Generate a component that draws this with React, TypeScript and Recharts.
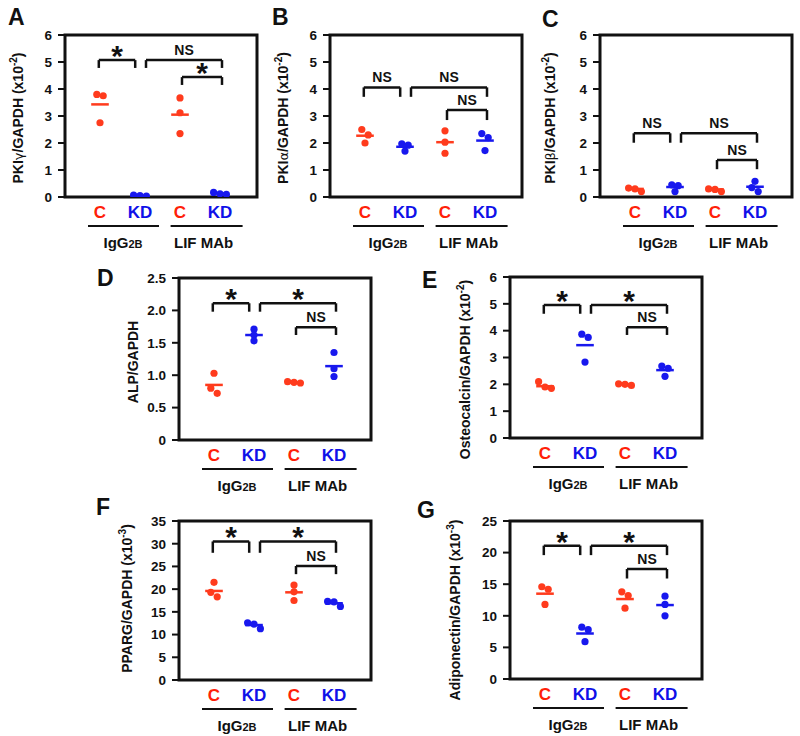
import React from "react";
import { ComposedChart, Scatter, XAxis, YAxis, ReferenceLine, ReferenceArea } from "recharts";

const FONT = "'Liberation Sans', Arial, Helvetica, sans-serif";
const INK = "#111111";
const RED = "#ff3b1d";
const RED_TEXT = "#ff2008";
const BLUE = "#1818ee";
const BLUE_TEXT = "#1010e8";

// shared layout of every panel
const categories = ["C", "KD", "C", "KD"];
const categoryTicks = [1, 2, 3, 4];
const groupNames = ["IgG", "LIF MAb"];
const groupSubs = ["2B", ""];
const groupCenters = [1.575, 3.59];
const X_DOMAIN: [number, number] = [0.125, 4.925];
const bracketFrom = [0.97, 2.15, 3.05];
const bracketTo = [1.88, 4.05, 4.05];

// A: PKIγ
const aVals = [[3.8, 3.75, 2.75], [0.07, 0.05, 0.03], [3.67, 3.12, 2.35], [0.17, 0.12, 0.1]];
const aMeans = [3.43, 0.05, 3.05, 0.13];
const aTop = [5.07, 5.07, 4.44];
const aLeg = [4.78, 4.78, 4.15];
const aSig = ["*", "NS", "*"];

// B: PKIα
const bVals = [[2.5, 2.3, 2.0], [1.97, 1.92, 1.7], [2.45, 2.03, 1.62], [2.35, 2.2, 1.72]];
const bMeans = [2.27, 1.86, 2.03, 2.09];
const bTop = [4.06, 4.06, 3.22];
const bLeg = [3.71, 3.71, 2.85];
const bSig = ["NS", "NS", "NS"];

// C: PKIβ
const cVals = [[0.33, 0.3, 0.2], [0.45, 0.42, 0.2], [0.3, 0.28, 0.2], [0.58, 0.35, 0.2]];
const cMeans = [0.3, 0.37, 0.28, 0.38];
const cTop = [2.36, 2.36, 1.37];
const cLeg = [2.01, 2.01, 1.03];
const cSig = ["NS", "NS", "NS"];

// D: ALP
const dVals = [[1.03, 0.8, 0.72], [1.71, 1.62, 1.53], [0.9, 0.89, 0.88], [1.35, 1.1, 0.98]];
const dMeans = [0.85, 1.62, 0.89, 1.14];
const dTop = [2.11, 2.11, 1.74];
const dLeg = [1.98, 1.98, 1.62];
const dSig = ["*", "*", "NS"];

// E: Osteocalcin
const eVals = [[2.1, 1.9, 1.85], [3.87, 3.75, 2.83], [2.02, 2.0, 1.96], [2.68, 2.6, 2.3]];
const eMeans = [1.93, 3.46, 2.0, 2.53];
const eTop = [4.96, 4.96, 4.13];
const eLeg = [4.63, 4.63, 3.84];
const eSig = ["*", "*", "NS"];

// F: PPARG
const fVals = [[21.5, 19.3, 18.3], [12.6, 12.3, 11.3], [20.9, 19.4, 17.5], [17.3, 17.2, 16.2]];
const fMeans = [19.6, 12.1, 19.3, 16.9];
const fTop = [30.5, 30.5, 25.1];
const fLeg = [28.0, 28.0, 23.3];
const fSig = ["*", "*", "NS"];

// G: Adiponectin
const gVals = [[14.6, 14.2, 11.8], [8.2, 7.8, 5.9], [13.8, 13.2, 11.2], [13.1, 11.8, 10.0]];
const gMeans = [13.5, 7.2, 12.65, 11.7];
const gTop = [21.1, 21.1, 17.4];
const gLeg = [19.6, 19.6, 15.9];
const gSig = ["*", "*", "NS"];

const ticks0to6 = [0, 1, 2, 3, 4, 5, 6];
const ticksD = [0, 0.5, 1, 1.5, 2, 2.5];
const ticksDLabels = ["0", "0.5", "1.0", "1.5", "2.0", "2.5"];
const ticksF = [0, 5, 10, 15, 20, 25, 30, 35];
const ticksG = [0, 5, 10, 15, 20, 25];

type Panel = {
  letter: string;
  letterX: number;
  letterY: number;
  boxLeft: number;
  boxTop: number;
  plotH: number;
  yMax: number;
  yTicks: number[];
  yTickLabels: string[];
  vals: number[][];
  means: number[];
  top: number[];
  leg: number[];
  sig: string[];
  label: [string, string, string, string];
  labelDx: number;
  labelDy: number;
};

const panels: Panel[] = [
  { letter: "A", letterX: 8, letterY: 25, boxLeft: 65, boxTop: 35, plotH: 162, yMax: 6, yTicks: ticks0to6, yTickLabels: ticks0to6.map(String), vals: aVals, means: aMeans, top: aTop, leg: aLeg, sig: aSig, label: ["PKI", "γ", "/GAPDH (x10", "-2"], labelDx: -47, labelDy: 2 },
  { letter: "B", letterX: 272, letterY: 25, boxLeft: 330, boxTop: 35, plotH: 162, yMax: 6, yTicks: ticks0to6, yTickLabels: ticks0to6.map(String), vals: bVals, means: bMeans, top: bTop, leg: bLeg, sig: bSig, label: ["PKI", "α", "/GAPDH (x10", "-2"], labelDx: -47, labelDy: 2 },
  { letter: "C", letterX: 542, letterY: 27, boxLeft: 600, boxTop: 35, plotH: 162, yMax: 6, yTicks: ticks0to6, yTickLabels: ticks0to6.map(String), vals: cVals, means: cMeans, top: cTop, leg: cLeg, sig: cSig, label: ["PKI", "β", "/GAPDH (x10", "-2"], labelDx: -50, labelDy: 2 },
  { letter: "D", letterX: 97, letterY: 286, boxLeft: 179, boxTop: 278, plotH: 162, yMax: 2.5, yTicks: ticksD, yTickLabels: ticksDLabels, vals: dVals, means: dMeans, top: dTop, leg: dLeg, sig: dSig, label: ["ALP/GAPDH", "", "", ""], labelDx: -46, labelDy: 3 },
  { letter: "E", letterX: 422, letterY: 288, boxLeft: 510, boxTop: 277, plotH: 161, yMax: 6, yTicks: ticks0to6, yTickLabels: ticks0to6.map(String), vals: eVals, means: eMeans, top: eTop, leg: eLeg, sig: eSig, label: ["Osteocalcin/GAPDH (x10", "", "", "-2"], labelDx: -45, labelDy: 12 },
  { letter: "F", letterX: 96, letterY: 515, boxLeft: 179, boxTop: 521, plotH: 159, yMax: 35, yTicks: ticksF, yTickLabels: ticksF.map(String), vals: fVals, means: fMeans, top: fTop, leg: fLeg, sig: fSig, label: ["PPARG/GAPDH (x10", "", "", "-3"], labelDx: -52, labelDy: -2 },
  { letter: "G", letterX: 417, letterY: 518, boxLeft: 510, boxTop: 521, plotH: 158, yMax: 25, yTicks: ticksG, yTickLabels: ticksG.map(String), vals: gVals, means: gMeans, top: gTop, leg: gLeg, sig: gSig, label: ["Adiponectin/GAPDH (x10", "", "", "-3"], labelDx: -55, labelDy: 10 },
];

const M_TOP = 30;
const M_LEFT = 25;
const M_RIGHT = 10;
const Y_W = 50;
const X_H = 60;
const PLOT_W = 192;
const CHART_W = M_LEFT + Y_W + PLOT_W + M_RIGHT;
const PX_PER_UNIT = PLOT_W / (X_DOMAIN[1] - X_DOMAIN[0]);

// spread near-equal values sideways, like the dot plot does
function swarm(vals: number[], cx: number, tol: number) {
  const sorted = [...vals].sort((a, b) => b - a);
  const clusters: number[][] = [];
  sorted.forEach((v) => {
    const last = clusters[clusters.length - 1];
    if (last && last[last.length - 1] - v < tol) last.push(v);
    else clusters.push([v]);
  });
  return clusters.flatMap((c) =>
    c.map((v, k) => ({ x: cx + (k - (c.length - 1) / 2) * 0.16, y: v }))
  );
}

const dot = (color: string) => (props: any) =>
  <circle cx={props.cx} cy={props.cy} r={3.6} fill={color} />;

// category label; the first category of each pair also carries the group underline + name
function CatTick(props: any) {
  const { x, y, payload } = props;
  const i = categoryTicks.indexOf(payload.value);
  const g = i % 2 === 0 ? i / 2 : -1;
  const gx = g >= 0 ? x + (groupCenters[g] - categoryTicks[i]) * PX_PER_UNIT : 0;
  return (
    <g>
      <text x={x} y={y + 21} textAnchor="middle" fontFamily={FONT} fontWeight={700} fontSize={17}
        fill={i % 2 ? BLUE_TEXT : RED_TEXT}>
        {categories[i]}
      </text>
      {g >= 0 && (
        <g>
          <line x1={gx + (g === 0 ? -35 : -33)} x2={gx + (g === 0 ? 36 : 39)} y1={y + 29} y2={y + 29}
            stroke={INK} strokeWidth={2} />
          <text x={gx} y={y + 51} textAnchor="middle" fontFamily={FONT} fontWeight={700} fontSize={15} fill={INK}>
            {groupNames[g]}
            {groupSubs[g] && <tspan fontSize={11}>{groupSubs[g]}</tspan>}
          </text>
        </g>
      )}
    </g>
  );
}

const sigLabel = (text: string) => (lp: any) => {
  const vb = lp.viewBox;
  const cx = vb.x + vb.width / 2;
  if (text === "*")
    return (
      <text x={cx} y={vb.y + 6} textAnchor="middle" fontFamily={FONT} fontWeight={700} fontSize={30} fill={INK}>*</text>
    );
  return (
    <text x={cx} y={vb.y - 5} textAnchor="middle" fontFamily={FONT} fontWeight={700} fontSize={14} fill={INK}>{text}</text>
  );
};

function PanelChart({ p }: { p: Panel }) {
  const H = M_TOP + p.plotH + X_H;
  const tol = p.yMax * 0.035;
  const redPts = [0, 2].flatMap((i) => swarm(p.vals[i], categoryTicks[i], tol));
  const bluePts = [1, 3].flatMap((i) => swarm(p.vals[i], categoryTicks[i], tol));
  const [pre, greek, post, exp] = p.label;
  const lx = M_LEFT + Y_W + p.labelDx + 5;
  const ly = M_TOP + p.plotH / 2 + p.labelDy;

  const yLabel = () => (
    <text x={lx} y={ly} transform={`rotate(-90 ${lx} ${ly})`} textAnchor="middle"
      fontFamily={FONT} fontWeight={700} fontSize={14} fill={INK}>
      {pre}
      {greek && <tspan fontWeight={400} fontFamily="'DejaVu Sans', sans-serif" fontSize={13}>{greek}</tspan>}
      {post}
      {exp && <tspan fontSize={10} dy={-6}>{exp}</tspan>}
      {exp && <tspan dy={6}>)</tspan>}
    </text>
  );

  return (
    <div style={{ position: "absolute", left: p.boxLeft - M_LEFT - Y_W, top: p.boxTop - M_TOP }}>
      <ComposedChart width={CHART_W} height={H} margin={{ top: M_TOP, right: M_RIGHT, bottom: 0, left: M_LEFT }}>
        <XAxis xAxisId="cat" type="number" dataKey="x" domain={X_DOMAIN} allowDataOverflow ticks={categoryTicks}
          height={X_H} tickSize={0} tickMargin={0} axisLine={false} tickLine={false} tick={<CatTick />} interval={0} />
        <YAxis type="number" dataKey="y" domain={[0, p.yMax]} allowDataOverflow ticks={p.yTicks} width={Y_W}
          interval={0} tickSize={7} tickMargin={6}
          tickFormatter={(v: number) => p.yTickLabels[p.yTicks.indexOf(v)]}
          tick={{ fill: INK, fontSize: 13.5, fontWeight: 700, fontFamily: FONT }}
          tickLine={{ stroke: INK, strokeWidth: 2 }} axisLine={false}
          label={{ content: yLabel }} />
        <ReferenceArea xAxisId="cat" x1={X_DOMAIN[0]} x2={X_DOMAIN[1]} y1={0} y2={p.yMax}
          fill="none" stroke={INK} strokeWidth={3} ifOverflow="visible" />
        {p.sig.flatMap((s, i) => [
          <ReferenceLine key={`l${i}`} xAxisId="cat" ifOverflow="visible" stroke={INK} strokeWidth={2.5}
            segment={[{ x: bracketFrom[i], y: p.leg[i] }, { x: bracketFrom[i], y: p.top[i] }]} />,
          <ReferenceLine key={`t${i}`} xAxisId="cat" ifOverflow="visible" stroke={INK} strokeWidth={2.5}
            segment={[{ x: bracketFrom[i], y: p.top[i] }, { x: bracketTo[i], y: p.top[i] }]}
            label={{ content: sigLabel(s) }} />,
          <ReferenceLine key={`r${i}`} xAxisId="cat" ifOverflow="visible" stroke={INK} strokeWidth={2.5}
            segment={[{ x: bracketTo[i], y: p.top[i] }, { x: bracketTo[i], y: p.leg[i] }]} />,
        ])}
        <Scatter xAxisId="cat" data={redPts} dataKey="y" shape={dot(RED)} isAnimationActive={false} />
        <Scatter xAxisId="cat" data={bluePts} dataKey="y" shape={dot(BLUE)} isAnimationActive={false} />
        {p.means.map((m, i) => (
          <ReferenceLine key={`m${i}`} xAxisId="cat" ifOverflow="visible" strokeWidth={2.5}
            stroke={i % 2 ? BLUE : RED}
            segment={[{ x: categoryTicks[i] - 0.22, y: m }, { x: categoryTicks[i] + 0.22, y: m }]} />
        ))}
      </ComposedChart>
    </div>
  );
}

export default function App() {
  return (
    <div style={{ position: "absolute", left: 0, top: 0, width: 800, height: 736, background: "#ffffff" }}>
      {panels.map((p) => <PanelChart key={p.letter} p={p} />)}
      <svg width={800} height={736} style={{ position: "absolute", left: 0, top: 0, pointerEvents: "none" }}>
        {panels.map((p) => (
          <text key={p.letter} x={p.letterX} y={p.letterY} fontFamily={FONT} fontWeight={700} fontSize={23} fill={INK}>
            {p.letter}
          </text>
        ))}
      </svg>
    </div>
  );
}
